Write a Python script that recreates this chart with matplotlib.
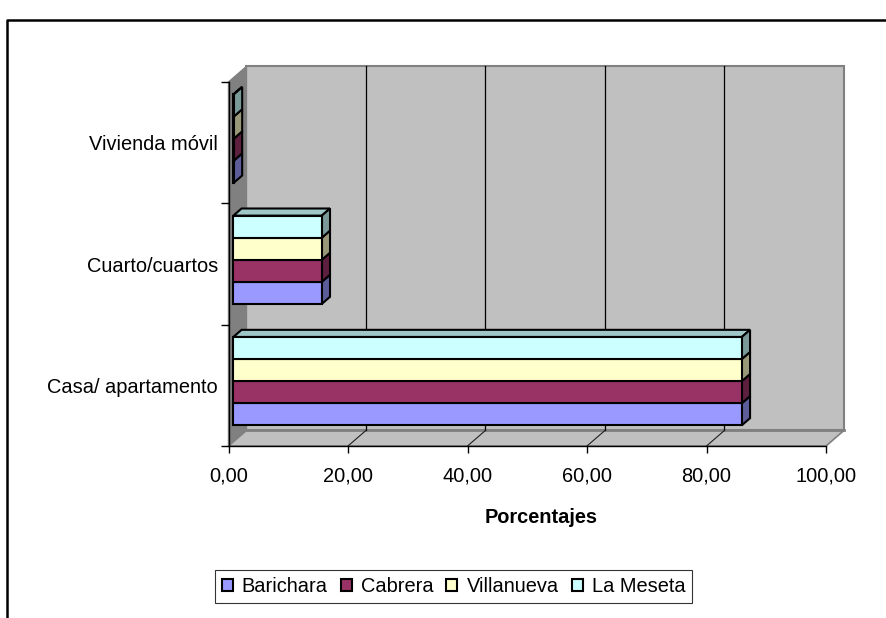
import matplotlib
matplotlib.use("Agg")
import matplotlib.pyplot as plt
from matplotlib.patches import Polygon, Patch
from matplotlib.lines import Line2D
from matplotlib.colors import to_rgb

plt.rcParams['font.family'] = ['Liberation Sans', 'DejaVu Sans']

# Datos
categorias = ["Casa/ apartamento", "Cuarto/cuartos", "Vivienda móvil"]
series = ["Barichara", "Cabrera", "Villanueva", "La Meseta"]
valores = {
    "Barichara": [85.1, 14.8, 0.1],
    "Cabrera": [85.1, 14.8, 0.1],
    "Villanueva": [85.1, 14.8, 0.1],
    "La Meseta": [85.1, 14.8, 0.1],
}
colores = ["#9999FF", "#993366", "#FFFFCC", "#CCFFFF"]
xticks = [0, 20, 40, 60, 80, 100]

# Efecto 3D (profundidad en unidades de datos)
DX = 3.0
DY = 0.128
f0, f1 = 0.27, 0.73  # posicion de las barras dentro de la profundidad
h = 0.182            # alto de cada barra

def oscurecer(c, k):
    r, g, b = to_rgb(c)
    return (r * k, g * k, b * k)

fig = plt.figure(figsize=(8.87, 6.18), dpi=100)
ax = fig.add_axes([228.5 / 887, (618 - 446) / 618, (826 - 228.5) / 887, (446 - 82) / 618])
ax.set_facecolor('none')
ax.set_xlim(0, 100)
ax.set_ylim(-0.5, len(categorias) - 0.5)
y0, y1 = -0.5, len(categorias) - 0.5

# Paredes y piso
pared = Polygon([(DX, y0 + DY), (100 + DX, y0 + DY), (100 + DX, y1 + DY), (DX, y1 + DY)],
                fc='#C0C0C0', ec='#808080', lw=1.5, clip_on=False, zorder=0.5)
ax.add_patch(pared)
lateral = Polygon([(0, y0), (DX, y0 + DY), (DX, y1 + DY), (0, y1)],
                  fc='#808080', ec='#808080', lw=1, clip_on=False, zorder=0.6)
ax.add_patch(lateral)
piso = Polygon([(0, y0), (100, y0), (100 + DX, y0 + DY), (DX, y0 + DY)],
               fc='#C0C0C0', ec='#808080', lw=1.2, clip_on=False, zorder=0.7)
ax.add_patch(piso)
ax.plot([DX, 100 + DX], [y0 + DY, y0 + DY], color='#808080', lw=2, clip_on=False, zorder=0.8)
for xv in xticks[1:-1]:
    ax.plot([xv + DX, xv + DX], [y0 + DY, y1 + DY], color='black', lw=0.9, clip_on=False, zorder=0.9)
    ax.plot([xv, xv + DX], [y0, y0 + DY], color='#202020', lw=0.8, clip_on=False, zorder=0.9)

# Barras 3D
z = 2
for ci in range(len(categorias)):
    for si, s in enumerate(series):
        v = valores[s][ci]
        c = colores[si]
        yb = ci + (si - 2) * h
        xa, ya = f0 * DX, yb + f0 * DY
        ddx, ddy = (f1 - f0) * DX, (f1 - f0) * DY
        frente = Polygon([(xa, ya), (xa + v, ya), (xa + v, ya + h), (xa, ya + h)],
                         fc=c, ec='black', lw=1.5, joinstyle='miter', clip_on=False, zorder=z)
        arriba = Polygon([(xa, ya + h), (xa + v, ya + h), (xa + v + ddx, ya + h + ddy), (xa + ddx, ya + h + ddy)],
                         fc=oscurecer(c, 0.78), ec='black', lw=1.5, joinstyle='miter', clip_on=False, zorder=z)
        lado = Polygon([(xa + v, ya), (xa + v + ddx, ya + ddy), (xa + v + ddx, ya + h + ddy), (xa + v, ya + h)],
                       fc=oscurecer(c, 0.6), ec='black', lw=1.5, joinstyle='miter', clip_on=False, zorder=z)
        ax.add_patch(arriba)
        ax.add_patch(lado)
        ax.add_patch(frente)
        z += 0.1

# Ejes
for sp in ['top', 'right']:
    ax.spines[sp].set_visible(False)
ax.spines['left'].set_linewidth(1.0)
ax.spines['bottom'].set_linewidth(1.0)
ax.set_xticks(xticks)
ax.set_xticklabels([f"{v:.2f}".replace('.', ',') for v in xticks], fontsize=14.4)
ax.tick_params(axis='x', direction='out', length=5, width=1, pad=10)
ax.set_yticks(range(len(categorias)))
ax.set_yticklabels(categorias, fontsize=14.4)
ax.set_yticks([y0 + i for i in range(len(categorias) + 1)], minor=True)
ax.tick_params(axis='y', which='major', length=0, pad=7.5)
ax.tick_params(axis='y', which='minor', direction='out', length=6, width=1)
ax.set_xlabel("Porcentajes", fontsize=14.4, fontweight='bold')
ax.xaxis.set_label_coords(0.523, -0.17)

# Leyenda
handles = [Patch(fc=c, ec='black', lw=1.5) for c in colores]
leg = fig.legend(handles, series, loc='center', bbox_to_anchor=(453.5 / 887, (618 - 586.5) / 618),
                 ncol=4, fontsize=14.4, frameon=True, fancybox=False, edgecolor='black',
                 handlelength=0.55, handleheight=0.55, handletextpad=0.45, columnspacing=0.65,
                 borderpad=0.35, borderaxespad=0)
leg.get_frame().set_linewidth(0.8)

# Borde exterior
fig.add_artist(Line2D([7 / 887, 7 / 887, 1], [0, (618 - 20) / 618, (618 - 20) / 618],
                      transform=fig.transFigure, color='black', lw=1.8))

fig.savefig('out.png', dpi=100)
